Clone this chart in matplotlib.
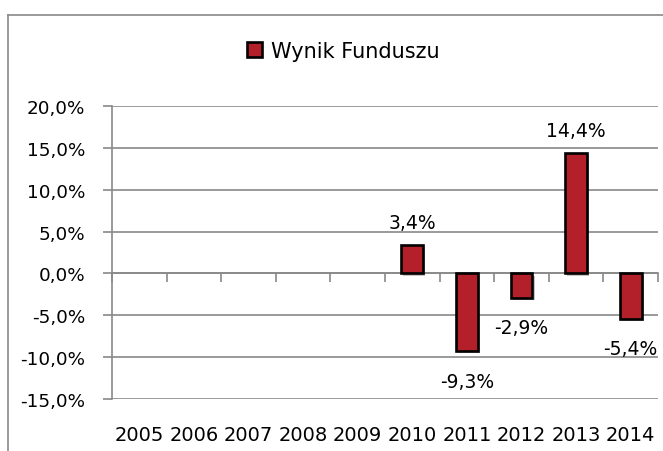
import numpy as np
import matplotlib
matplotlib.use("Agg")
import matplotlib.pyplot as plt
from matplotlib.patches import Patch
from matplotlib.lines import Line2D
import matplotlib.patheffects as pe
from matplotlib.ticker import FuncFormatter, FixedLocator

# ---- data ----
years = ["2005", "2006", "2007", "2008", "2009", "2010", "2011", "2012", "2013", "2014"]
wynik = [np.nan, np.nan, np.nan, np.nan, np.nan, 3.4, -9.3, -2.9, 14.4, -5.4]
series_name = "Wynik Funduszu"
y_ticks = [-15, -10, -5, 0, 5, 10, 15, 20]

plt.rcParams['font.family'] = ['DejaVu Sans']

W, H = 663, 452
fig = plt.figure(figsize=(W / 100, H / 100), dpi=100)
GRAY = '#898989'
BAR = '#B3202A'

ax = fig.add_axes([112 / W, 52 / H, 546 / W, 293 / H])
x = np.arange(len(years))
bars = ax.bar(x, wynik, width=0.4, color=BAR, edgecolor='black', linewidth=1.9, zorder=3)
for b in bars:
    b.set_path_effects([pe.SimplePatchShadow(offset=(1.5, -1.5), alpha=0.25), pe.Normal()])

ymin, ymax = y_ticks[0], y_ticks[-1]
ax.set_ylim(ymin, ymax)
ax.set_xlim(-0.5, len(years) - 0.5)

fmt = lambda v: f"{v:.1f}%".replace('.', ',')
ax.yaxis.set_major_locator(FixedLocator(y_ticks))
ax.yaxis.set_major_formatter(FuncFormatter(lambda v, p: fmt(v)))
ax.tick_params(axis='y', direction='out', length=6.5, width=1.2, color=GRAY,
               labelsize=13.2, pad=13, labelcolor='black')
ax.set_xticks(x)
ax.set_xticklabels(years)
ax.tick_params(axis='x', length=0, labelsize=14, pad=19)

ax.grid(axis='y', color=GRAY, linewidth=1.2, zorder=0)
ax.set_axisbelow(True)
for s in ['top', 'right', 'bottom']:
    ax.spines[s].set_visible(False)
ax.spines['left'].set_color(GRAY)
ax.spines['left'].set_linewidth(1.2)

# category axis at zero with boundary ticks
sec = ax.secondary_xaxis(-ymin / (ymax - ymin))
sec.set_xticks(np.arange(-0.5, len(years), 1.0))
sec.tick_params(axis='x', direction='out', length=6.5, width=1.2, color=GRAY, labelbottom=False)
sec.spines['bottom'].set_color(GRAY)
sec.spines['bottom'].set_linewidth(1.2)

# data labels
for xi, v in zip(x, wynik):
    if np.isnan(v):
        continue
    off = 16 if v >= 0 else -21.5
    ax.annotate(fmt(v), (xi, v), xytext=(0, off), textcoords='offset points',
                ha='center', va='center', fontsize=13.5, color='black', zorder=5)

# legend
h = Patch(facecolor=BAR, edgecolor='black', linewidth=1.9)
fig.legend([h], [series_name], loc='center', bbox_to_anchor=(343 / W, 1 - 52 / H),
           frameon=False, fontsize=15, handlelength=0.75, handleheight=0.7,
           handletextpad=0.4, borderpad=0)

# chart border (partially visible)
fig.add_artist(Line2D([8 / W, 1.0], [1 - 16 / H, 1 - 16 / H], transform=fig.transFigure,
                      color=GRAY, linewidth=1.2))
fig.add_artist(Line2D([8 / W, 8 / W], [0.0, 1 - 16 / H], transform=fig.transFigure,
                      color=GRAY, linewidth=1.2))

fig.savefig('out.png', dpi=100)
